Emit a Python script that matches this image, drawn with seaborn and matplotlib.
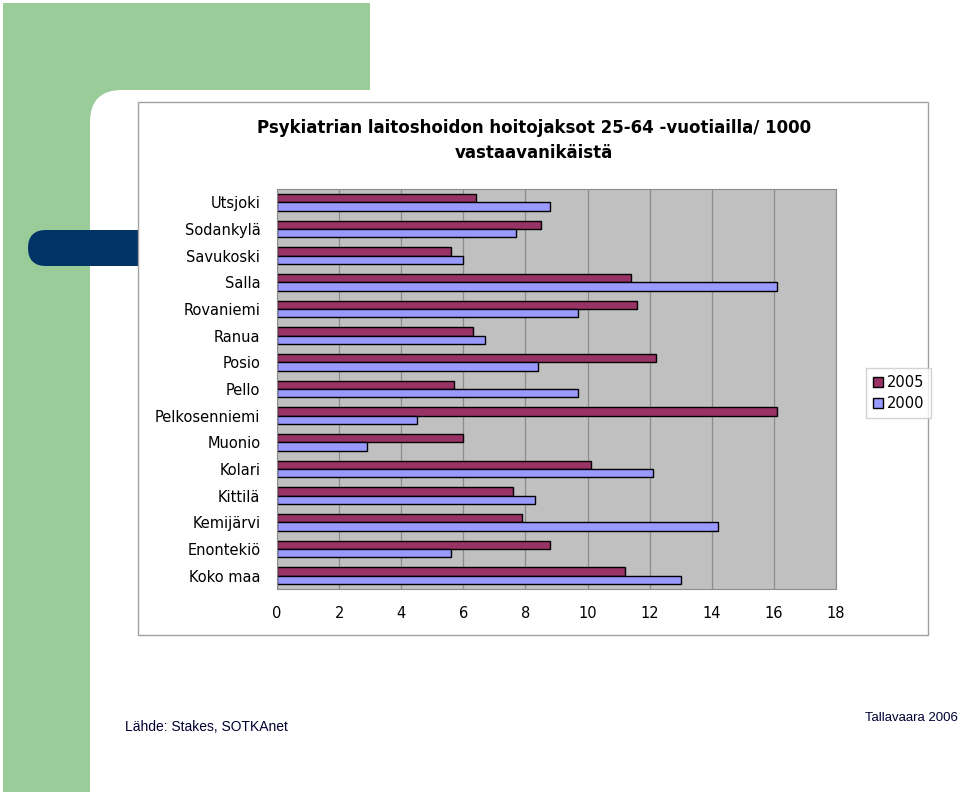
import matplotlib
matplotlib.use("Agg")
import matplotlib.pyplot as plt
from matplotlib.patches import Rectangle, FancyBboxPatch
import pandas as pd
import seaborn as sns

# data (per 1000 inhabitants aged 25-64)
kunnat = ["Utsjoki", "Sodankylä", "Savukoski", "Salla", "Rovaniemi", "Ranua",
          "Posio", "Pello", "Pelkosenniemi", "Muonio", "Kolari", "Kittilä",
          "Kemijärvi", "Enontekiö", "Koko maa"]
v2005 = [6.4, 8.5, 5.6, 11.4, 11.6, 6.3, 12.2, 5.7, 16.1, 6.0, 10.1, 7.6, 7.9, 8.8, 11.2]
v2000 = [8.8, 7.7, 6.0, 16.1, 9.7, 6.7, 8.4, 9.7, 4.5, 2.9, 12.1, 8.3, 14.2, 5.6, 13.0]
vuodet = ["2005", "2000"]
xticks = [0, 2, 4, 6, 8, 10, 12, 14, 16, 18]

df = pd.DataFrame({
    "kunta": kunnat * 2,
    "arvo": v2005 + v2000,
    "vuosi": ["2005"] * len(kunnat) + ["2000"] * len(kunnat),
})

sns.set_style("white")
plt.rcParams["font.family"] = ["DejaVu Sans"]
plt.rcParams["text.color"] = "black"
plt.rcParams["xtick.color"] = "black"
plt.rcParams["ytick.color"] = "black"

fig = plt.figure(figsize=(9.6, 7.92), dpi=100)

# slide background decorations, in pixel coords
bg = fig.add_axes([0, 0, 1, 1])
bg.set_xlim(0, 960)
bg.set_ylim(792, 0)
bg.axis("off")
green = "#99CC99"
bg.add_patch(Rectangle((3, 3), 367, 120, color=green, lw=0))
bg.add_patch(Rectangle((3, 3), 87, 789, color=green, lw=0))
bg.add_patch(FancyBboxPatch((90, 90), 1000, 1000, boxstyle="round,pad=0,rounding_size=32",
                            facecolor="white", edgecolor="none"))
bg.add_patch(FancyBboxPatch((28, 230), 140, 36, boxstyle="round,pad=0,rounding_size=18",
                            facecolor="#003366", edgecolor="none"))
bg.add_patch(Rectangle((138, 102), 790, 533, facecolor="white", edgecolor="#A0A0A0", lw=1))

bg.text(534, 128, "Psykiatrian laitoshoidon hoitojaksot 25-64 -vuotiailla/ 1000",
        ha="center", va="center", fontsize=12, fontweight="bold")
bg.text(534, 153, "vastaavanikäistä", ha="center", va="center", fontsize=12, fontweight="bold")
bg.text(125, 727, "Lähde: Stakes, SOTKAnet", ha="left", va="center", fontsize=10,
        family="Liberation Sans", color="#000033")
bg.text(958, 718, "Tallavaara 2006", ha="right", va="center", fontsize=9.5,
        family="Liberation Sans", color="#000033")

# main chart
ax = fig.add_axes([277 / 960, 1 - 589 / 792, (836 - 277) / 960, (589 - 189) / 792])
sns.barplot(data=df, y="kunta", x="arvo", hue="vuosi", hue_order=vuodet,
            palette=["#993366", "#9999FF"], saturation=1, orient="h", width=0.62,
            edgecolor="black", linewidth=1.0, ax=ax, legend=True)
ax.set_facecolor("#C0C0C0")
ax.set_xlim(0, 18)
ax.set_xticks(xticks)
ax.set_xticklabels([str(t) for t in xticks], fontsize=10.5)
ax.tick_params(axis="y", labelsize=10.5, length=0, pad=12)
ax.tick_params(axis="x", length=4, color="#808080", pad=8)
ax.xaxis.grid(True, color="#8C8C8C", lw=0.9)
ax.set_axisbelow(True)
for s in ax.spines.values():
    s.set_color("#8C8C8C")
ax.set_xlabel("")
ax.set_ylabel("")

h, l = ax.get_legend_handles_labels()
ax.legend(h, l, loc="center left", bbox_to_anchor=(1.054, 0.49), frameon=True,
          fancybox=False, edgecolor="#C8C8C8", fontsize=10.5, handlelength=0.7,
          handleheight=0.7, handletextpad=0.3, borderpad=0.45, labelspacing=0.45,
          borderaxespad=0)

fig.savefig("out.png", dpi=100)
